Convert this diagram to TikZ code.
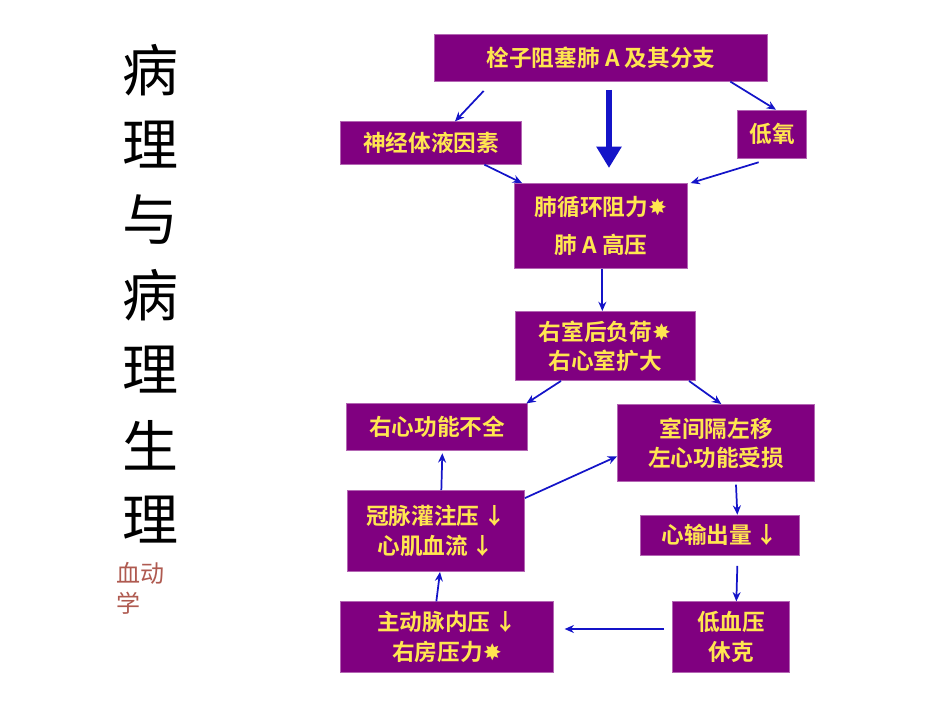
\documentclass[tikz,border=0pt]{standalone}
\usepackage{fontspec}
\setmainfont{Noto Sans CJK SC}[BoldFont={Noto Sans CJK SC Bold}]
\newfontfamily\symfont{DejaVu Sans}
\usetikzlibrary{arrows.meta}
\definecolor{boxpurple}{RGB}{128,0,128}
\definecolor{boxtext}{RGB}{255,230,80}
\definecolor{arrowblue}{RGB}{20,20,200}
\definecolor{subred}{RGB}{175,90,80}
\newcommand{\up}{{\symfont\char"2738}}
\newcommand{\dn}{\,↓}
\tikzset{
  box/.style={draw=boxpurple!60!white, fill=boxpurple, text=boxtext, font=\fontsize{17}{22}\selectfont\bfseries, align=center, inner sep=0pt},
  link/.style={draw=arrowblue, line width=1.3pt, -{Stealth[length=7pt,width=6pt]}},
  title/.style={font=\fontsize{42}{42}\selectfont}
}
\begin{document}
\begin{tikzpicture}[x=0.75pt,y=-0.75pt]
  \useasboundingbox (0,0) rectangle (950,713);
  % title on the left
  \foreach \ch [count=\i] in {病,理,与,病,理,生,理}
    \node[title] (t\i) at (150,{70+75*(\i-1)}) {\ch};
  \node[text=subred, font=\fontsize{18}{20}\selectfont, anchor=west] (sub1) at (112,573) {血动};
  \node[text=subred, font=\fontsize{18}{20}\selectfont, anchor=west] (sub2) at (112,603) {学};
  % boxes
  \node[box, minimum width=250pt, minimum height=35pt] (emb) at (601,58) {栓子阻塞肺 A 及其分支};
  \node[box, minimum width=136pt, minimum height=32pt] (neu) at (431,143) {神经体液因素};
  \node[box, minimum width=52pt, minimum height=36pt] (hyp) at (772,134) {低氧};
  \node[box, minimum width=130pt, minimum height=64pt] (pvr) at (601,226) {肺循环阻力\up\\[6pt]肺 A 高压};
  \node[box, minimum width=135pt, minimum height=52pt] (rv) at (605,346) {右室后负荷\up\\右心室扩大};
  \node[box, minimum width=136pt, minimum height=35pt] (rhf) at (437,427) {右心功能不全};
  \node[box, minimum width=148pt, minimum height=58pt] (sep) at (716,443) {室间隔左移\\左心功能受损};
  \node[box, minimum width=133pt, minimum height=61pt] (cor) at (436,531) {冠脉灌注压\dn\\心肌血流\dn};
  \node[box, minimum width=119pt, minimum height=30pt] (co) at (720,535) {心输出量\dn};
  \node[box, minimum width=160pt, minimum height=53pt] (aor) at (447,637) {主动脉内压\dn\\右房压力\up};
  \node[box, minimum width=88pt, minimum height=53pt] (bp) at (731,637) {低血压\\休克};
  % connectors
  \coordinate (big) at (609,90);
  \draw[draw=arrowblue, line width=4pt, -{Triangle[length=16pt,width=18pt]}] (big) -- (609,168);
  \draw[link] ([xshift=-88pt,yshift=-7pt]emb.south) -- ([xshift=18pt]neu.north);
  \draw[link] ([xshift=97pt]emb.south) -- ([xshift=3pt]hyp.north);
  \draw[link] ([xshift=40pt]neu.south) -- ([xshift=6pt]pvr.north west);
  \draw[link] ([xshift=-10pt,yshift=-3pt]hyp.south) -- ([xshift=2pt]pvr.north east);
  \draw[link] ([xshift=1pt]pvr.south) -- ([xshift=-2pt]rv.north);
  \draw[link] ([xshift=-33pt]rv.south) -- ([xshift=67pt]rhf.north);
  \draw[link] ([xshift=63pt]rv.south) -- ([xshift=4pt]sep.north);
  \draw[link] ([yshift=-6pt]cor.north east) -- ([yshift=-10pt]sep.west);
  \draw[link] ([xshift=4pt]cor.north) -- ([xshift=4pt,yshift=-2pt]rhf.south);
  \draw[link] ([xshift=15pt,yshift=-2pt]sep.south) -- ([xshift=13pt]co.north);
  \draw[link] ([xshift=13pt,yshift=-8pt]co.south) -- ([xshift=4pt]bp.north);
  \draw[link] ([xshift=-6pt,yshift=6pt]bp.west) -- ([xshift=8pt,yshift=6pt]aor.east);
  \draw[link] ([xshift=-8pt]aor.north) -- ([xshift=3pt]cor.south);
\end{tikzpicture}
\end{document}
